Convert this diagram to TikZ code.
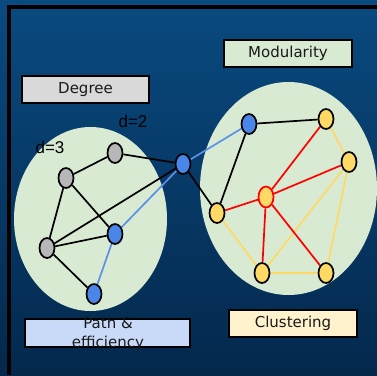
\documentclass[tikz,border=0pt]{standalone}
\usepackage{fontspec}
\setmainfont{DejaVu Sans}
\newfontfamily\labelfont{Liberation Sans}
\usetikzlibrary{shapes.geometric}

\pgfdeclarelayer{backdrop}
\pgfdeclarelayer{edges}
\pgfsetlayers{backdrop,edges,main}

\definecolor{bgtop}{RGB}{9,74,128}
\definecolor{bgbot}{RGB}{4,40,76}
\definecolor{groupfill}{RGB}{217,234,211}
\definecolor{greynode}{RGB}{183,183,183}
\definecolor{bluenode}{RGB}{74,134,232}
\definecolor{blueedge}{RGB}{90,145,230}
\definecolor{goldnode}{RGB}{255,217,102}
\definecolor{goldedge}{RGB}{255,217,102}
\definecolor{degfill}{RGB}{217,217,217}
\definecolor{modfill}{RGB}{217,234,211}
\definecolor{pathfill}{RGB}{201,218,248}
\definecolor{clusfill}{RGB}{255,242,204}

\tikzset{
  vertex/.style={ellipse, draw=black, line width=1.7pt, minimum width=15pt,
    minimum height=20pt, inner sep=0pt},
  grey/.style={vertex, fill=greynode},
  blue/.style={vertex, fill=bluenode},
  gold/.style={vertex, fill=goldnode},
  hubgold/.style={vertex, fill=goldnode, draw=red, minimum height=21pt},
  titlebox/.style={rectangle, draw=black, line width=1.6pt, inner sep=0pt},
  titletext/.style={font=\fontsize{15}{19}\selectfont, text=black!90, align=center},
  dlabel/.style={font=\labelfont\fontsize{17}{20}\selectfont, text=black},
  plain/.style={line width=1.7pt, draw=black},
  bluel/.style={line width=1.7pt, draw=blueedge},
  redl/.style={line width=1.7pt, draw=red},
  goldl/.style={line width=1.7pt, draw=goldedge},
  group/.style={ellipse, fill=groupfill, inner sep=0pt}
}

\begin{document}
\begin{tikzpicture}[x=1pt, y=-1pt]
  \useasboundingbox (0,0) rectangle (377,375);

  \begin{pgfonlayer}{backdrop}
    % backdrop and frame
    \shade[top color=bgtop, bottom color=bgbot] (0,0) rectangle (377,375);
    \fill[black] (7,5) rectangle (377,9);
    \fill[black] (7,5) rectangle (11,375);

    % the two groups
    \node[group, minimum width=153pt, minimum height=184pt] (leftgroup) at (90.5,219) {};
    \node[group, minimum width=177pt, minimum height=213pt] (rightgroup) at (288.5,188.5) {};

    % title boxes
    \node[titlebox, fill=degfill, minimum width=127pt, minimum height=27pt] (degbox) at (85.5,89.5) {};
    \node[titlebox, fill=modfill, minimum width=128pt, minimum height=27pt] (modbox) at (288,53.5) {};
    \node[titlebox, fill=pathfill, minimum width=165pt, minimum height=28pt] (pathbox) at (107.5,333) {};
    \node[titlebox, fill=clusfill, minimum width=128pt, minimum height=27pt] (clusbox) at (293,323.5) {};
  \end{pgfonlayer}

  % box titles
  \node[titletext] (degtxt) at (degbox.center) {Degree};
  \node[titletext] (modtxt) at (modbox.center) {Modularity};
  \node[titletext] (pathtxt) at (108,334) {Path \&\\efficiency};
  \node[titletext] (clustxt) at (clusbox.center) {Clustering};

  % vertices
  \node[grey] (a) at (115,153) {};
  \node[grey] (b) at (66,178) {};
  \node[grey] (c) at (47,248) {};
  \node[blue] (d) at (115,234) {};
  \node[blue] (e) at (94,294) {};
  \node[blue] (f) at (183,164) {};
  \node[blue] (g) at (249,124) {};
  \node[gold] (h) at (217,213) {};
  \node[gold] (i) at (326,119) {};
  \node[gold] (j) at (349,162) {};
  \node[gold] (k) at (262,273) {};
  \node[gold] (l) at (326,273) {};
  \node[hubgold] (m) at (266,197) {};

  % edges, kept behind the vertices
  \begin{pgfonlayer}{edges}
    \path[plain] (a) -- (b) (b) -- (c) (b) -- (d) (c) -- (d) (c) -- (f)
      (c) -- (e) (a) -- (f) (f) -- (h) (g) -- (h) (g) -- (i);
    \path[bluel] (f) -- (g) (f) -- (d) (d) -- (e);
    \path[goldl] (i) -- (j) (j) -- (l) (j) -- (k) (k) -- (l) (h) -- (k);
    \path[redl] (h) -- (m) (m) -- (i) (m) -- (j) (m) -- (k) (m) -- (l);
  \end{pgfonlayer}

  % degree annotations
  \node[dlabel] (d2) at (133,121) {d=2};
  \node[dlabel] (d3) at (50,147) {d=3};
\end{tikzpicture}
\end{document}
